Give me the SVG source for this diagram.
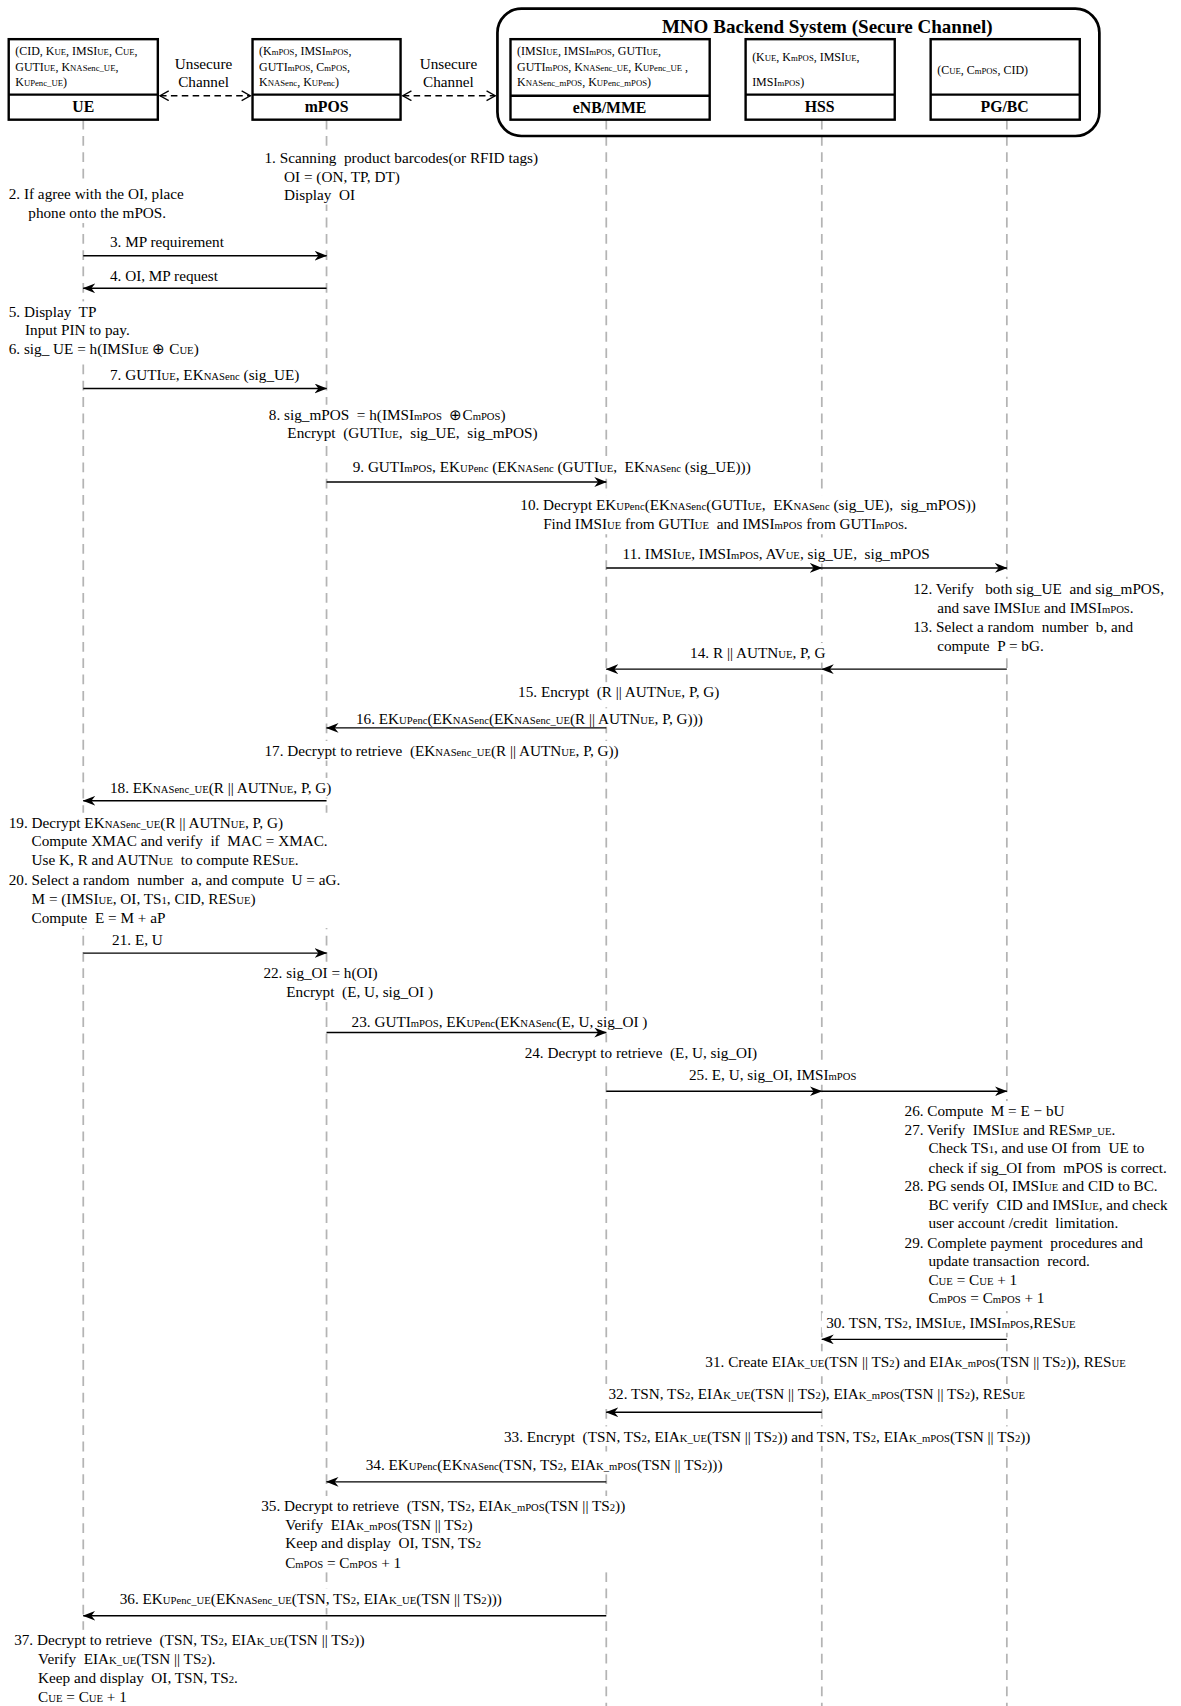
<svg xmlns="http://www.w3.org/2000/svg" width="1181" height="1706" viewBox="0 0 1181 1706">
  <style>
    text { font-family: "Liberation Serif", "Times New Roman", serif; fill: #000; }
    .t { font-size: 14px; white-space: pre; }
    .s { font-size: 9.8px; }
    .h { font-size: 11px; }
    .hs { font-size: 8px; }
    .lbl { font-size: 14.5px; font-weight: bold; text-anchor: middle; }
    .ti { font-size: 17.5px; font-weight: bold; text-anchor: middle; }
    .ch { font-size: 14px; text-anchor: middle; }
    .box { fill: #fff; stroke: #000; stroke-width: 2.2; }
    .div { stroke: #000; stroke-width: 2.2; }
    .life { stroke: #b4b4b4; stroke-width: 1.6; stroke-dasharray: 9 6; fill: none; }
    .bg { fill: #fff; }
    .msg { stroke: #000; stroke-width: 1.3; fill: none; marker-end: url(#ah); }
    .uns { stroke: #000; stroke-width: 1.2; stroke-dasharray: 6 4; fill: none; marker-start: url(#ov); marker-end: url(#ov); }
  </style>
  <defs>
    <marker id="ah" markerUnits="userSpaceOnUse" markerWidth="13" markerHeight="10" refX="11" refY="4.5" orient="auto">
      <path d="M0,0 L11.5,4.5 L0,9 L3.5,4.5 Z" fill="#000"/>
    </marker>
    <marker id="ov" markerUnits="userSpaceOnUse" markerWidth="12" markerHeight="12" refX="9" refY="5" orient="auto-start-reverse">
      <path d="M1,0.5 L9,5 L1,9.5" fill="none" stroke="#000" stroke-width="1.2"/>
    </marker>
  </defs>
  <rect width="1181" height="1706" fill="#fff"/>
  <g transform="scale(1.08848 1.08801)">
    <!-- lifelines -->
    <g id="lifelines">
      <line class="life" x1="76.5" y1="110" x2="76.5" y2="1568"/>
      <line class="life" x1="300" y1="110" x2="300" y2="1568"/>
      <line class="life" x1="557" y1="110" x2="557" y2="1568"/>
      <line class="life" x1="755" y1="110" x2="755" y2="1568"/>
      <line class="life" x1="925" y1="110" x2="925" y2="1568"/>
    </g>

    <!-- MNO backend container -->
    <g id="mno">
      <rect x="457" y="8" width="553" height="117" rx="22" fill="none" stroke="#000" stroke-width="2.5"/>
      <text class="ti" x="760" y="30">MNO Backend System (Secure Channel)</text>
    </g>

    <!-- entity boxes -->
    <g id="ue">
      <rect class="box" x="8" y="36" width="137" height="74"/>
      <line class="div" x1="8" y1="87" x2="145" y2="87"/>
      <text class="h" x="14" y="51">(CID, K<tspan class="hs">UE</tspan>, IMSI<tspan class="hs">UE</tspan>, C<tspan class="hs">UE</tspan>,</text>
      <text class="h" x="14" y="65">GUTI<tspan class="hs">UE</tspan>, K<tspan class="hs">NASenc_UE</tspan>,</text>
      <text class="h" x="14" y="79">K<tspan class="hs">UPenc_UE</tspan>)</text>
      <text class="lbl" x="76.5" y="103">UE</text>
    </g>
    <g id="mpos">
      <rect class="box" x="232" y="36" width="136" height="74"/>
      <line class="div" x1="232" y1="87" x2="368" y2="87"/>
      <text class="h" x="238" y="51">(K<tspan class="hs">mPOS</tspan>, IMSI<tspan class="hs">mPOS</tspan>,</text>
      <text class="h" x="238" y="65">GUTI<tspan class="hs">mPOS</tspan>, C<tspan class="hs">mPOS</tspan>,</text>
      <text class="h" x="238" y="79">K<tspan class="hs">NASenc</tspan>, K<tspan class="hs">UPenc</tspan>)</text>
      <text class="lbl" x="300" y="103">mPOS</text>
    </g>
    <g id="enb">
      <rect class="box" x="469" y="36" width="183" height="74"/>
      <line class="div" x1="469" y1="88" x2="652" y2="88"/>
      <text class="h" x="475" y="51">(IMSI<tspan class="hs">UE</tspan>, IMSI<tspan class="hs">mPOS</tspan>, GUTI<tspan class="hs">UE</tspan>,</text>
      <text class="h" x="475" y="65">GUTI<tspan class="hs">mPOS</tspan>, K<tspan class="hs">NASenc_UE</tspan>, K<tspan class="hs">UPenc_UE</tspan> ,</text>
      <text class="h" x="475" y="79">K<tspan class="hs">NASenc_mPOS</tspan>, K<tspan class="hs">UPenc_mPOS</tspan>)</text>
      <text class="lbl" x="560" y="104">eNB/MME</text>
    </g>
    <g id="hss">
      <rect class="box" x="685" y="36" width="137" height="74"/>
      <line class="div" x1="685" y1="87" x2="822" y2="87"/>
      <text class="h" x="691" y="56">(K<tspan class="hs">UE</tspan>, K<tspan class="hs">mPOS</tspan>, IMSI<tspan class="hs">UE</tspan>,</text>
      <text class="h" x="691" y="79">IMSI<tspan class="hs">mPOS</tspan>)</text>
      <text class="lbl" x="753" y="103">HSS</text>
    </g>
    <g id="pgbc">
      <rect class="box" x="855" y="36" width="137" height="74"/>
      <line class="div" x1="855" y1="87" x2="992" y2="87"/>
      <text class="h" x="861" y="68">(C<tspan class="hs">UE</tspan>, C<tspan class="hs">mPOS</tspan>, CID)</text>
      <text class="lbl" x="923" y="103">PG/BC</text>
    </g>

    <!-- backgrounds that break the lifelines behind notes -->
    <g id="note-bg">
      <rect class="bg" x="238" y="136" width="262" height="52"/>
      <rect class="bg" x="4" y="169" width="175" height="36"/>
      <rect class="bg" x="4" y="277" width="190" height="53"/>
      <rect class="bg" x="243" y="372" width="248" height="36"/>
      <rect class="bg" x="320" y="420" width="372" height="18"/>
      <rect class="bg" x="474" y="455" width="425" height="36"/>
      <rect class="bg" x="568" y="500" width="296" height="18"/>
      <rect class="bg" x="835" y="532" width="235" height="71"/>
      <rect class="bg" x="630" y="591" width="137" height="18"/>
      <rect class="bg" x="472" y="627" width="196" height="18"/>
      <rect class="bg" x="323" y="651" width="338" height="17"/>
      <rect class="bg" x="239" y="681" width="340" height="18"/>
      <rect class="bg" x="97" y="715" width="218" height="18"/>
      <rect class="bg" x="4" y="747" width="310" height="106"/>
      <rect class="bg" x="238" y="885" width="165" height="36"/>
      <rect class="bg" x="319" y="930" width="288" height="17"/>
      <rect class="bg" x="478" y="958" width="222" height="18"/>
      <rect class="bg" x="629" y="979" width="168" height="18"/>
      <rect class="bg" x="827" y="1012" width="250" height="190"/>
      <rect class="bg" x="755" y="1207" width="242" height="18"/>
      <rect class="bg" x="644" y="1242" width="405" height="18"/>
      <rect class="bg" x="555" y="1272" width="398" height="18"/>
      <rect class="bg" x="459" y="1311" width="505" height="18"/>
      <rect class="bg" x="332" y="1337" width="344" height="18"/>
      <rect class="bg" x="236" y="1375" width="346" height="70"/>
      <rect class="bg" x="106" y="1460" width="367" height="18"/>
      <rect class="bg" x="9" y="1498" width="334" height="70"/>
    </g>

    <!-- connectors -->
    <g id="connectors">
      <line class="uns" x1="147" y1="88" x2="230" y2="88"/>
      <line class="uns" x1="370" y1="88" x2="455" y2="88"/>
      <line class="msg" x1="76.5" y1="235" x2="300" y2="235"/>
      <line class="msg" x1="300" y1="265" x2="76.5" y2="265"/>
      <line class="msg" x1="76.5" y1="357" x2="300" y2="357"/>
      <line class="msg" x1="300" y1="443" x2="557" y2="443"/>
      <line class="msg" x1="557" y1="522" x2="755" y2="522"/>
      <line class="msg" x1="755" y1="522" x2="925" y2="522"/>
      <line class="msg" x1="925" y1="615" x2="755" y2="615"/>
      <line class="msg" x1="755" y1="615" x2="557" y2="615"/>
      <line class="msg" x1="557" y1="669" x2="300" y2="669"/>
      <line class="msg" x1="300" y1="736" x2="76.5" y2="736"/>
      <line class="msg" x1="76.5" y1="876" x2="300" y2="876"/>
      <line class="msg" x1="300" y1="949" x2="557" y2="949"/>
      <line class="msg" x1="557" y1="1003" x2="755" y2="1003"/>
      <line class="msg" x1="755" y1="1003" x2="925" y2="1003"/>
      <line class="msg" x1="925" y1="1231" x2="755" y2="1231"/>
      <line class="msg" x1="755" y1="1298" x2="557" y2="1298"/>
      <line class="msg" x1="557" y1="1362" x2="300" y2="1362"/>
      <line class="msg" x1="557" y1="1485" x2="76.5" y2="1485"/>
    </g>

    <!-- channel labels -->
    <g id="channels">
      <text class="ch" x="187" y="63">Unsecure</text>
      <text class="ch" x="187" y="80">Channel</text>
      <text class="ch" x="412" y="63">Unsecure</text>
      <text class="ch" x="412" y="80">Channel</text>
    </g>

    <!-- protocol steps -->
    <g id="steps">
      <text class="t" x="243" y="150">1. Scanning  product barcodes(or RFID tags)</text>
      <text class="t" x="261" y="167">OI = (ON, TP, DT)</text>
      <text class="t" x="261" y="184">Display  OI</text>

      <text class="t" x="8" y="183">2. If agree with the OI, place</text>
      <text class="t" x="26" y="200">phone onto the mPOS.</text>

      <text class="t" x="101" y="227">3. MP requirement</text>
      <text class="t" x="101" y="258">4. OI, MP request</text>

      <text class="t" x="8" y="291">5. Display  TP</text>
      <text class="t" x="23" y="308">Input PIN to pay.</text>
      <text class="t" x="8" y="325">6. sig_ UE = h(IMSI<tspan class="s">UE</tspan> ⊕ C<tspan class="s">UE</tspan>)</text>

      <text class="t" x="101" y="349">7. GUTI<tspan class="s">UE</tspan>, EK<tspan class="s">NASenc</tspan> (sig_UE)</text>

      <text class="t" x="247" y="386">8. sig_mPOS  = h(IMSI<tspan class="s">mPOS</tspan>  ⊕C<tspan class="s">mPOS</tspan>)</text>
      <text class="t" x="264" y="403">Encrypt  (GUTI<tspan class="s">UE</tspan>,  sig_UE,  sig_mPOS)</text>

      <text class="t" x="324" y="434">9. GUTI<tspan class="s">mPOS</tspan>, EK<tspan class="s">UPenc</tspan> (EK<tspan class="s">NASenc</tspan> (GUTI<tspan class="s">UE</tspan>,  EK<tspan class="s">NASenc</tspan> (sig_UE)))</text>

      <text class="t" x="478" y="469">10. Decrypt EK<tspan class="s">UPenc</tspan>(EK<tspan class="s">NASenc</tspan>(GUTI<tspan class="s">UE</tspan>,  EK<tspan class="s">NASenc</tspan> (sig_UE),  sig_mPOS))</text>
      <text class="t" x="499" y="486">Find IMSI<tspan class="s">UE</tspan> from GUTI<tspan class="s">UE</tspan>  and IMSI<tspan class="s">mPOS</tspan> from GUTI<tspan class="s">mPOS</tspan>.</text>

      <text class="t" x="572" y="514">11. IMSI<tspan class="s">UE</tspan>, IMSI<tspan class="s">mPOS</tspan>, AV<tspan class="s">UE</tspan>, sig_UE,  sig_mPOS</text>

      <text class="t" x="839" y="546">12. Verify   both sig_UE  and sig_mPOS,</text>
      <text class="t" x="861" y="563">and save IMSI<tspan class="s">UE</tspan> and IMSI<tspan class="s">mPOS</tspan>.</text>
      <text class="t" x="839" y="581">13. Select a random  number  b, and</text>
      <text class="t" x="861" y="598">compute  P = bG.</text>

      <text class="t" x="634" y="605">14. R || AUTN<tspan class="s">UE</tspan>, P, G</text>
      <text class="t" x="476" y="641">15. Encrypt  (R || AUTN<tspan class="s">UE</tspan>, P, G)</text>
      <text class="t" x="327" y="665">16. EK<tspan class="s">UPenc</tspan>(EK<tspan class="s">NASenc</tspan>(EK<tspan class="s">NASenc_UE</tspan>(R || AUTN<tspan class="s">UE</tspan>, P, G)))</text>
      <text class="t" x="243" y="695">17. Decrypt to retrieve  (EK<tspan class="s">NASenc_UE</tspan>(R || AUTN<tspan class="s">UE</tspan>, P, G))</text>
      <text class="t" x="101" y="729">18. EK<tspan class="s">NASenc_UE</tspan>(R || AUTN<tspan class="s">UE</tspan>, P, G)</text>

      <text class="t" x="8" y="761">19. Decrypt EK<tspan class="s">NASenc_UE</tspan>(R || AUTN<tspan class="s">UE</tspan>, P, G)</text>
      <text class="t" x="29" y="778">Compute XMAC and verify  if  MAC = XMAC.</text>
      <text class="t" x="29" y="795">Use K, R and AUTN<tspan class="s">UE</tspan>  to compute RES<tspan class="s">UE</tspan>.</text>
      <text class="t" x="8" y="813">20. Select a random  number  a, and compute  U = aG.</text>
      <text class="t" x="29" y="831">M = (IMSI<tspan class="s">UE</tspan>, OI, TS<tspan class="s">1</tspan>, CID, RES<tspan class="s">UE</tspan>)</text>
      <text class="t" x="29" y="848">Compute  E = M + aP</text>

      <text class="t" x="103" y="869">21. E, U</text>
      <text class="t" x="242" y="899">22. sig_OI = h(OI)</text>
      <text class="t" x="263" y="916">Encrypt  (E, U, sig_OI )</text>
      <text class="t" x="323" y="944">23. GUTI<tspan class="s">mPOS</tspan>, EK<tspan class="s">UPenc</tspan>(EK<tspan class="s">NASenc</tspan>(E, U, sig_OI )</text>
      <text class="t" x="482" y="972">24. Decrypt to retrieve  (E, U, sig_OI)</text>
      <text class="t" x="633" y="993">25. E, U, sig_OI, IMSI<tspan class="s">mPOS</tspan></text>

      <text class="t" x="831" y="1026">26. Compute  M = E − bU</text>
      <text class="t" x="831" y="1043">27. Verify  IMSI<tspan class="s">UE</tspan> and RES<tspan class="s">MP_UE</tspan>.</text>
      <text class="t" x="853" y="1060">Check TS<tspan class="s">1</tspan>, and use OI from  UE to</text>
      <text class="t" x="853" y="1078">check if sig_OI from  mPOS is correct.</text>
      <text class="t" x="831" y="1095">28. PG sends OI, IMSI<tspan class="s">UE</tspan> and CID to BC.</text>
      <text class="t" x="853" y="1112">BC verify  CID and IMSI<tspan class="s">UE</tspan>, and check</text>
      <text class="t" x="853" y="1129">user account /credit  limitation.</text>
      <text class="t" x="831" y="1147">29. Complete payment  procedures and</text>
      <text class="t" x="853" y="1164">update transaction  record.</text>
      <text class="t" x="853" y="1181">C<tspan class="s">UE</tspan> = C<tspan class="s">UE</tspan> + 1</text>
      <text class="t" x="853" y="1198">C<tspan class="s">mPOS</tspan> = C<tspan class="s">mPOS</tspan> + 1</text>

      <text class="t" x="759" y="1221">30. TSN, TS<tspan class="s">2</tspan>, IMSI<tspan class="s">UE</tspan>, IMSI<tspan class="s">mPOS</tspan>,RES<tspan class="s">UE</tspan></text>
      <text class="t" x="648" y="1256">31. Create EIA<tspan class="s">K_UE</tspan>(TSN || TS<tspan class="s">2</tspan>) and EIA<tspan class="s">K_mPOS</tspan>(TSN || TS<tspan class="s">2</tspan>)), RES<tspan class="s">UE</tspan></text>
      <text class="t" x="559" y="1286">32. TSN, TS<tspan class="s">2</tspan>, EIA<tspan class="s">K_UE</tspan>(TSN || TS<tspan class="s">2</tspan>), EIA<tspan class="s">K_mPOS</tspan>(TSN || TS<tspan class="s">2</tspan>), RES<tspan class="s">UE</tspan></text>
      <text class="t" x="463" y="1325">33. Encrypt  (TSN, TS<tspan class="s">2</tspan>, EIA<tspan class="s">K_UE</tspan>(TSN || TS<tspan class="s">2</tspan>)) and TSN, TS<tspan class="s">2</tspan>, EIA<tspan class="s">K_mPOS</tspan>(TSN || TS<tspan class="s">2</tspan>))</text>
      <text class="t" x="336" y="1351">34. EK<tspan class="s">UPenc</tspan>(EK<tspan class="s">NASenc</tspan>(TSN, TS<tspan class="s">2</tspan>, EIA<tspan class="s">K_mPOS</tspan>(TSN || TS<tspan class="s">2</tspan>)))</text>

      <text class="t" x="240" y="1389">35. Decrypt to retrieve  (TSN, TS<tspan class="s">2</tspan>, EIA<tspan class="s">K_mPOS</tspan>(TSN || TS<tspan class="s">2</tspan>))</text>
      <text class="t" x="262" y="1406">Verify  EIA<tspan class="s">K_mPOS</tspan>(TSN || TS<tspan class="s">2</tspan>)</text>
      <text class="t" x="262" y="1423">Keep and display  OI, TSN, TS<tspan class="s">2</tspan></text>
      <text class="t" x="262" y="1441">C<tspan class="s">mPOS</tspan> = C<tspan class="s">mPOS</tspan> + 1</text>

      <text class="t" x="110" y="1474">36. EK<tspan class="s">UPenc_UE</tspan>(EK<tspan class="s">NASenc_UE</tspan>(TSN, TS<tspan class="s">2</tspan>, EIA<tspan class="s">K_UE</tspan>(TSN || TS<tspan class="s">2</tspan>)))</text>

      <text class="t" x="13" y="1512">37. Decrypt to retrieve  (TSN, TS<tspan class="s">2</tspan>, EIA<tspan class="s">K_UE</tspan>(TSN || TS<tspan class="s">2</tspan>))</text>
      <text class="t" x="35" y="1529">Verify  EIA<tspan class="s">K_UE</tspan>(TSN || TS<tspan class="s">2</tspan>).</text>
      <text class="t" x="35" y="1547">Keep and display  OI, TSN, TS<tspan class="s">2</tspan>.</text>
      <text class="t" x="35" y="1564">C<tspan class="s">UE</tspan> = C<tspan class="s">UE</tspan> + 1</text>
    </g>
  </g>
</svg>
